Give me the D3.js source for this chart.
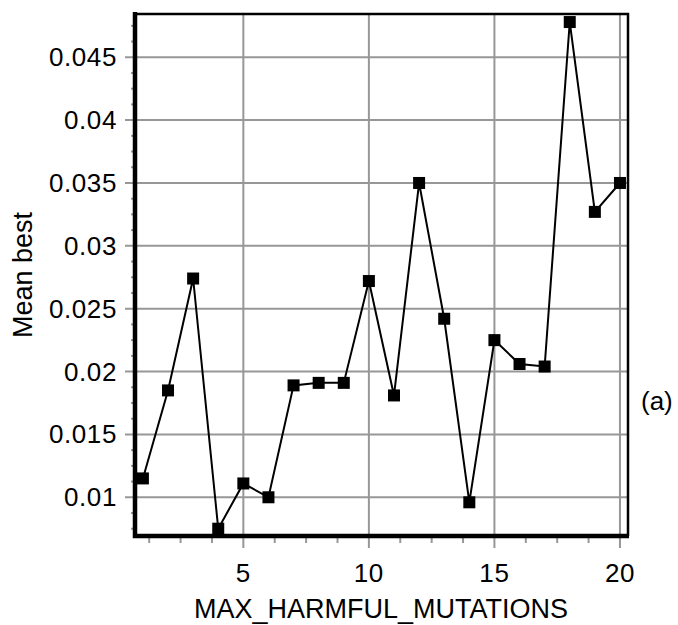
<!DOCTYPE html>
<html>
<head>
<meta charset="utf-8">
<script src="https://cdn.jsdelivr.net/npm/d3@7"></script>
<style>
  body { margin: 0; background: #fff; }
  text { font-family: "Liberation Sans", Arial, sans-serif; fill: #000; }
</style>
</head>
<body>
<svg id="chart" width="678" height="625"></svg>
<script>
// data
const mutations = [1, 2, 3, 4, 5, 6, 7, 8, 9, 10, 11, 12, 13, 14, 15, 16, 17, 18, 19, 20];
const meanBest = [0.0115, 0.0185, 0.0274, 0.0075, 0.0111, 0.0100, 0.0189, 0.0191, 0.0191, 0.0272,
  0.0181, 0.0350, 0.0242, 0.0096, 0.0225, 0.0206, 0.0204, 0.0478, 0.0327, 0.0350];
const xTicks = [5, 10, 15, 20];
const yTicks = [0.01, 0.015, 0.02, 0.025, 0.03, 0.035, 0.04, 0.045];
const xMinor = d3.range(1.25, 20.3, 1.25);
const yMinor = d3.range(0.0075, 0.0484, 0.00125);

const svg = d3.select('#chart');
const frame = { left: 135, right: 628, top: 14, bottom: 536 };
const grey = '#979797';

const x = d3.scaleLinear().domain([0.685, 20.32]).range([frame.left, frame.right]);
const y = d3.scaleLinear().domain([0.00692, 0.04844]).range([frame.bottom, frame.top]);

// minor ticks
svg.append('g')
  .selectAll('line')
  .data(xMinor.filter(d => xTicks.indexOf(d) < 0))
  .join('line')
  .attr('x1', d => x(d)).attr('x2', d => x(d))
  .attr('y1', frame.bottom).attr('y2', frame.bottom + 7)
  .attr('stroke', grey).attr('stroke-width', 2);

svg.append('g')
  .selectAll('line')
  .data(yMinor.filter(d => !yTicks.some(t => Math.abs(t - d) < 1e-6)))
  .join('line')
  .attr('x1', frame.left - 4).attr('x2', frame.left)
  .attr('y1', d => y(d)).attr('y2', d => y(d))
  .attr('stroke', grey).attr('stroke-width', 2);

// gridlines + major ticks
svg.append('g')
  .selectAll('line')
  .data(xTicks)
  .join('line')
  .attr('x1', d => x(d)).attr('x2', d => x(d))
  .attr('y1', frame.top).attr('y2', frame.bottom + 12)
  .attr('stroke', grey).attr('stroke-width', 2);

svg.append('g')
  .selectAll('line')
  .data(yTicks)
  .join('line')
  .attr('x1', frame.left - 10).attr('x2', frame.right)
  .attr('y1', d => y(d)).attr('y2', d => y(d))
  .attr('stroke', grey).attr('stroke-width', 2);

// frame: thin top/right, thick left/bottom
svg.append('path')
  .attr('d', `M${frame.left},${frame.top}H${frame.right}V${frame.bottom}`)
  .attr('fill', 'none').attr('stroke', '#000').attr('stroke-width', 2.5);
svg.append('path')
  .attr('d', `M${frame.left},${frame.top - 2}V${frame.bottom}H${frame.right + 1}`)
  .attr('fill', 'none').attr('stroke', '#000').attr('stroke-width', 4.5);

// tick labels
svg.append('g')
  .selectAll('text')
  .data(yTicks)
  .join('text')
  .attr('x', 117).attr('y', d => y(d) + 9)
  .attr('text-anchor', 'end')
  .attr('font-size', 26)
  .attr('letter-spacing', 0.6)
  .text(d => String(d));

svg.append('g')
  .selectAll('text')
  .data(xTicks)
  .join('text')
  .attr('x', d => x(d)).attr('y', 582)
  .attr('text-anchor', 'middle')
  .attr('font-size', 26)
  .attr('letter-spacing', 0.6)
  .text(d => d);

// axis titles
svg.append('text')
  .attr('x', 381).attr('y', 618)
  .attr('text-anchor', 'middle')
  .attr('font-size', 27)
  .text('MAX_HARMFUL_MUTATIONS');

svg.append('text')
  .attr('transform', `translate(32,${(frame.top + frame.bottom) / 2}) rotate(-90)`)
  .attr('text-anchor', 'middle')
  .attr('font-size', 27)
  .text('Mean best');

svg.append('text')
  .attr('x', 641).attr('y', 410)
  .attr('font-size', 26)
  .text('(a)');

// series
const pts = mutations.map((m, i) => [m, meanBest[i]]);
svg.append('path')
  .datum(pts)
  .attr('fill', 'none')
  .attr('stroke', '#000')
  .attr('stroke-width', 2)
  .attr('d', d3.line().x(d => x(d[0])).y(d => y(d[1])));

const size = 12;
svg.append('g')
  .selectAll('rect')
  .data(pts)
  .join('rect')
  .attr('x', d => x(d[0]) - size / 2)
  .attr('y', d => y(d[1]) - size / 2)
  .attr('width', size).attr('height', size)
  .attr('fill', '#000');
</script>
</body>
</html>
